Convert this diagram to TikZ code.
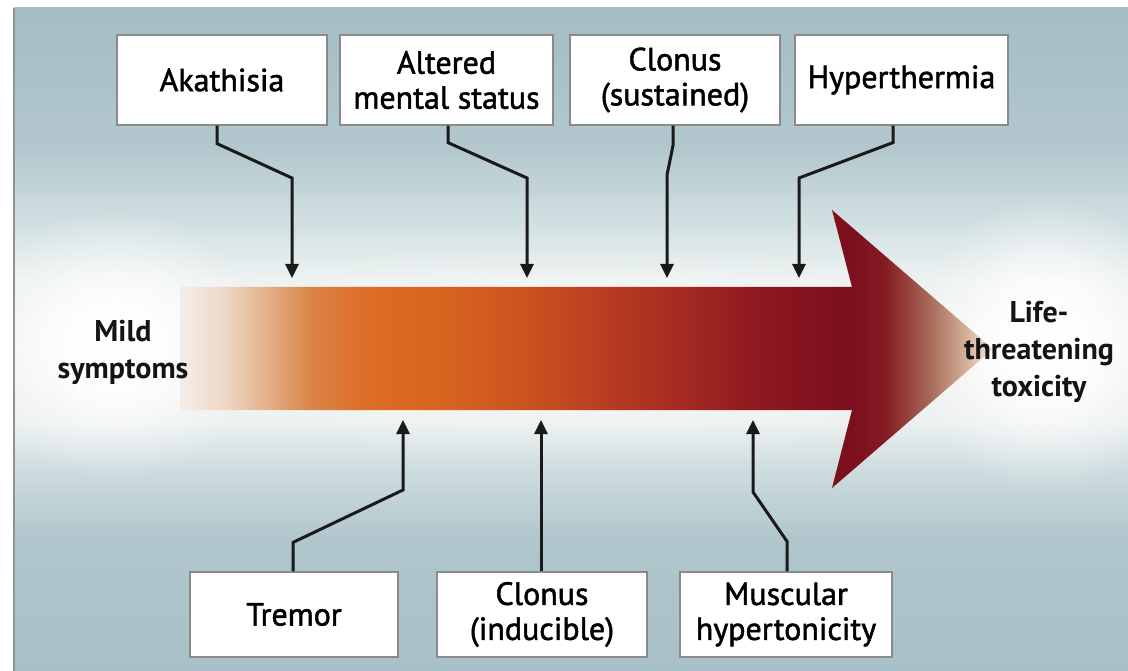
\documentclass[tikz,border=0pt]{standalone}
\usepackage{fontspec}
\setmainfont{PT Sans}
\newfontfamily\boxfont[FakeBold=1.6]{PT Sans}
\usetikzlibrary{arrows.meta,fadings,shadings}

\definecolor{boxgray}{HTML}{8A8A8A}
\definecolor{connblack}{HTML}{1A1A1A}
\definecolor{framegray}{HTML}{8C9498}

\definecolor{bg0}{HTML}{A8C0C7}
\definecolor{bg1}{HTML}{B0C6CC}
\definecolor{bg2}{HTML}{CDDCDF}
\definecolor{bg3}{HTML}{EDF1F0}
\definecolor{bg4}{HTML}{F3F5F3}
\definecolor{bg5}{HTML}{EDF2F1}
\definecolor{bg6}{HTML}{D5E2E4}
\definecolor{bg7}{HTML}{B3C8CE}
\definecolor{bg8}{HTML}{A4BCC4}

\pgfdeclareverticalshading{bgshade}{100bp}{color(0bp)=(bg0); color(25bp)=(bg0); color(34.88bp)=(bg1); color(40.16bp)=(bg2); color(43.93bp)=(bg3); color(49.21bp)=(bg4); color(54.49bp)=(bg5); color(58.26bp)=(bg6); color(64.29bp)=(bg7); color(75bp)=(bg8); color(100bp)=(bg8)}

\definecolor{a0}{HTML}{F3EEE9}
\definecolor{a1}{HTML}{EED8C5}
\definecolor{a2}{HTML}{E2AD84}
\definecolor{a3}{HTML}{DA8548}
\definecolor{a4}{HTML}{DD6E28}
\definecolor{a5}{HTML}{D8641F}
\definecolor{a6}{HTML}{CB5420}
\definecolor{a7}{HTML}{BA3E21}
\definecolor{a8}{HTML}{A52A22}
\definecolor{a9}{HTML}{8E1820}
\definecolor{a10}{HTML}{7B0F1D}
\definecolor{a11}{HTML}{851C22}
\definecolor{a12}{HTML}{A86A58}
\definecolor{a13}{HTML}{D4AF98}
\definecolor{a14}{HTML}{F2E6DA}

\pgfdeclarehorizontalshading{arrowshade}{100bp}{color(0bp)=(a0); color(25bp)=(a0); color(27.77bp)=(a1); color(30.54bp)=(a2); color(33.0bp)=(a3); color(36.07bp)=(a4); color(40.99bp)=(a5); color(45.91bp)=(a6); color(50.83bp)=(a7); color(55.75bp)=(a8); color(60.67bp)=(a9); color(66.33bp)=(a10); color(68.36bp)=(a11); color(71.12bp)=(a12); color(73.28bp)=(a13); color(75bp)=(a14); color(100bp)=(a14)}

\tikzfading[name=glowfade, inner color=transparent!0, outer color=transparent!100]

\begin{document}
\begin{tikzpicture}[x=1pt,y=-1pt,
  box/.style={draw=boxgray, line width=1.2pt, fill=white, inner sep=0pt,
    font=\boxfont\fontsize{32}{35}\selectfont, align=center},
  topbox/.style={box, minimum height=90pt},
  botbox/.style={box, minimum height=85pt},
  conn/.style={draw=connblack, line width=3pt, line join=miter,
    -{Triangle[length=14pt,width=13pt]}},
  endlabel/.style={font=\bfseries\fontsize{30}{37}\selectfont, align=center, text=black!92}]

\useasboundingbox (0,0) rectangle (1128,671);
\fill[white] (0,0) rectangle (1128,671);
\shade[shading=bgshade] (14,8) rectangle (1128,671);
\fill[white, opacity=0.5, path fading=glowfade] (580,350) ellipse (520pt and 110pt);
\fill[white, path fading=glowfade] (115,345) ellipse (150pt and 135pt);
\fill[white, path fading=glowfade] (115,345) ellipse (105pt and 95pt);
\fill[white, path fading=glowfade] (1045,345) ellipse (130pt and 150pt);
\fill[white, path fading=glowfade] (1045,340) ellipse (95pt and 105pt);
\draw[framegray, line width=1.5pt] (14,8) -- (14,671);

% big arrow
\shade[shading=arrowshade] (180,287) -- (852,287) -- (832,210) -- (993,349)
  -- (832,488) -- (852,410) -- (180,410) -- cycle;

% targets on the arrow
\coordinate (t1) at (292,278);
\coordinate (t2) at (527,278);
\coordinate (t3) at (667,278);
\coordinate (t4) at (799,278);
\coordinate (b1) at (403,420);
\coordinate (b2) at (541,420);
\coordinate (b3) at (753,420);

% top boxes
\node[topbox, minimum width=210pt] (akat) at (222,80) {Akathisia};
\node[topbox, minimum width=213pt] (alt) at (446.5,80) {Altered\\mental status};
\node[topbox, minimum width=210pt] (clos) at (675,80) {Clonus\\(sustained)};
\node[topbox, minimum width=213pt] (hyp) at (901.5,80) {Hyperthermia};

% bottom boxes
\node[botbox, minimum width=208pt] (trem) at (294,614.5) {Tremor};
\node[botbox, minimum width=210pt] (clin) at (542,614.5) {Clonus\\(inducible)};
\node[botbox, minimum width=212pt] (musc) at (786,614.5) {Muscular\\hypertonicity};

% end labels
\node[endlabel] (mild) at (123,352) {Mild\\symptoms};
\node[endlabel] (life) at (1039,352) {Life-\\threatening\\toxicity};

% connectors
\draw[conn] ([xshift=-5pt]akat.south) -- ++(0,18) -- (292,178) -- (t1);
\draw[conn] ([xshift=1.5pt]alt.south) -- ++(0,17) -- (527,178) -- (t2);
\draw[conn] ([xshift=-2pt]clos.south) -- ++(0,20) -- (667,175) -- (t3);
\draw[conn] ([xshift=-8.5pt]hyp.south) -- ++(0,17) -- (799,178) -- (t4);
\draw[conn] ([xshift=-1pt]trem.north) -- ++(0,-29) -- (403,490) -- (b1);
\draw[conn] ([xshift=-1pt]clin.north) -- (b2);
\draw[conn] ([xshift=1pt]musc.north) -- ++(0,-30) -- (753,492) -- (b3);
\end{tikzpicture}
\end{document}
